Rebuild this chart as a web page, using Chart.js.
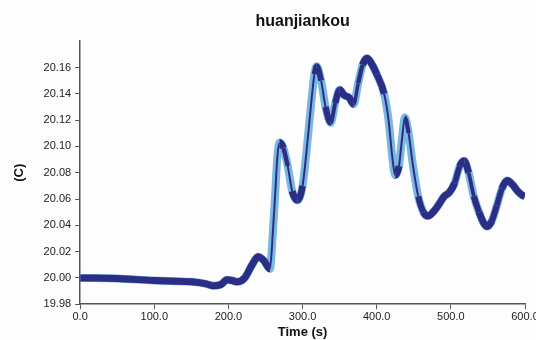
<!DOCTYPE html>
<html>
<head>
<meta charset="utf-8">
<script src="https://cdn.jsdelivr.net/npm/chart.js@4.4.1/dist/chart.umd.min.js"></script>
<style>
  html, body { margin: 0; padding: 0; background: #fdfdfd; }
  #wrap { width: 536px; height: 340px; }
</style>
</head>
<body>
<div id="wrap"><canvas id="temp-chart"></canvas></div>
<script>
// Temperature readings (C) over time (s)
const times = [0, 50, 100, 150, 170, 180, 190, 198, 205, 212, 222, 232, 240, 248, 256,
  260, 263, 266, 269, 274, 280, 286, 293, 300, 306, 312, 316, 319, 325, 331, 338, 344,
  350, 356, 363, 369, 375, 381, 387, 393, 400, 410, 416, 421, 425, 430, 434, 438, 443,
  449, 456, 463, 469, 476, 484, 491, 498, 505, 512, 518, 524, 531, 538, 544, 549, 555,
  562, 569, 576, 583, 590, 596, 600];
const temps = [20.000, 19.9995, 19.998, 19.997, 19.9955, 19.994, 19.995, 19.9985, 19.998,
  19.997, 20.000, 20.010, 20.016, 20.013, 20.007,
  20.035, 20.063, 20.092, 20.103, 20.099, 20.085, 20.066, 20.059, 20.070, 20.100, 20.135,
  20.155, 20.161, 20.150, 20.130, 20.118, 20.133,
  20.143, 20.139, 20.137, 20.132, 20.148, 20.162, 20.167, 20.163, 20.155, 20.140, 20.120,
  20.092, 20.078, 20.085, 20.105, 20.122, 20.110,
  20.085, 20.062, 20.050, 20.047, 20.050, 20.056, 20.062, 20.065, 20.072, 20.085, 20.089,
  20.080, 20.062, 20.050, 20.042, 20.039, 20.043,
  20.055, 20.068, 20.074, 20.071, 20.066, 20.063, 20.062];
const yMin = 19.98, yMax = 20.18, yStep = 0.02;
const xMin = 0, xMax = 600, xStep = 100;

const points = times.map((t, i) => ({ x: t, y: temps[i] }));

// thinner dark core where the curve runs steep, like the sparse markers in the original
function coreWidth(ctx) {
  const dx = Math.abs(ctx.p1.x - ctx.p0.x) || 0.001;
  const slope = Math.abs(ctx.p1.y - ctx.p0.y) / dx;
  if (slope < 2.5) return 7;
  return Math.max(2, 7 - (slope - 2.5) * 1.6);
}

const tickFont = { family: 'Liberation Sans, Arial, sans-serif', size: 11 };
const titleFont = { family: 'Liberation Sans, Arial, sans-serif', size: 13, weight: 'bold' };

new Chart(document.getElementById('temp-chart'), {
  type: 'line',
  data: {
    datasets: [{
      data: points,
      borderColor: '#2c2e86',
      borderWidth: 7,
      segment: { borderWidth: coreWidth },
      cubicInterpolationMode: 'monotone',
      pointRadius: 0,
      fill: false,
      order: 0,
    }, {
      data: points,
      borderColor: '#7ab8df',
      borderWidth: 8,
      cubicInterpolationMode: 'monotone',
      pointRadius: 0,
      fill: false,
      order: 1,
    }]
  },
  options: {
    responsive: true,
    maintainAspectRatio: false,
    animation: false,
    layout: { padding: { left: 12, right: 0, top: 8, bottom: 0 } },
    plugins: {
      legend: { display: false },
      tooltip: { enabled: false },
      title: {
        display: true,
        text: 'huanjiankou',
        fullSize: false,
        color: '#111',
        font: { family: 'Liberation Sans, Arial, sans-serif', size: 16, weight: 'bold' },
        padding: { top: 4, bottom: 10 },
      }
    },
    scales: {
      x: {
        type: 'linear',
        min: xMin,
        max: xMax,
        grid: { drawOnChartArea: false, color: '#555', tickLength: 5 },
        border: { color: '#555', width: 1.5 },
        afterFit: (scale) => { scale.paddingRight = 11; },
        ticks: {
          stepSize: xStep,
          color: '#222',
          font: tickFont,
          padding: 1,
          maxRotation: 0,
          callback: (v) => v.toFixed(1),
        },
        title: { display: true, text: 'Time (s)', color: '#111', font: titleFont, padding: { top: 0, bottom: 0 } },
      },
      y: {
        min: yMin,
        max: yMax,
        grid: { drawOnChartArea: false, color: '#555', tickLength: 5 },
        border: { color: '#555', width: 1.5 },
        afterBuildTicks: (scale) => {
          scale.ticks = scale.ticks.filter(t => t.value < yMax - yStep / 2);
        },
        ticks: {
          stepSize: yStep,
          color: '#222',
          font: tickFont,
          padding: 4,
          callback: (v) => v.toFixed(2),
        },
        title: { display: true, text: '(C)', color: '#111', font: titleFont, padding: { top: 0, bottom: 12 } },
      }
    }
  }
});
</script>
</body>
</html>
